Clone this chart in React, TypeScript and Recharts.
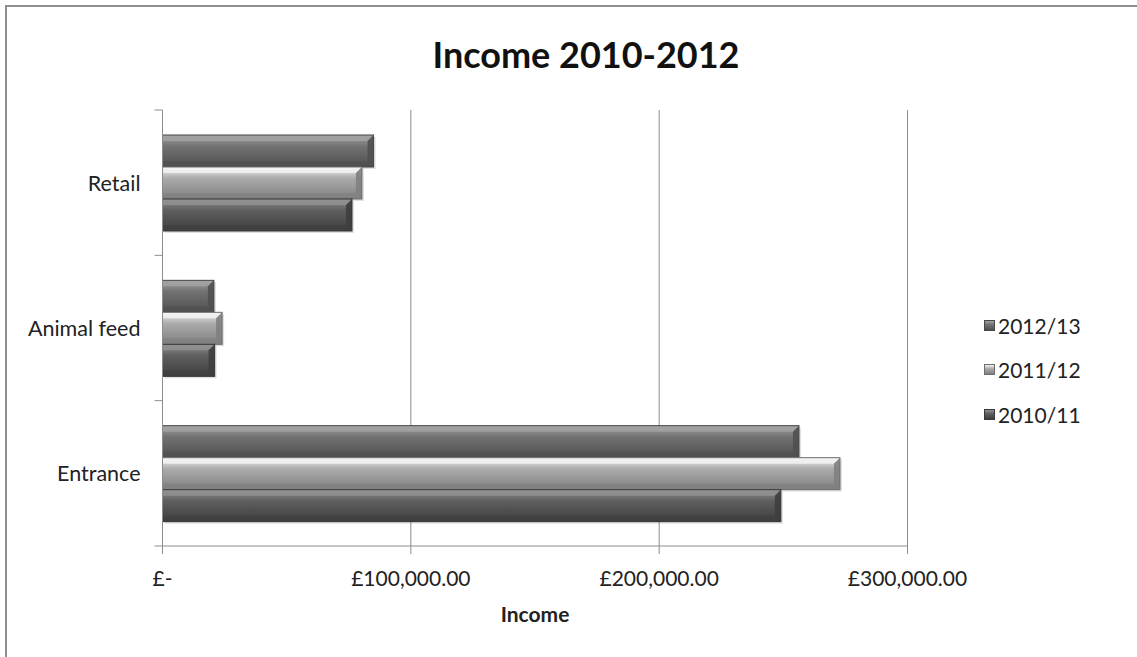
import React from "react";
import { BarChart, Bar, XAxis, YAxis, CartesianGrid } from "recharts";

const categories = ["Retail", "Animal feed", "Entrance"];
const seriesNames = ["2012/13", "2011/12", "2010/11"];
const values2012 = [85000, 20700, 256300];
const values2011 = [80300, 24000, 272800];
const values2010 = [76300, 21000, 249000];
const xTicks = [0, 100000, 200000, 300000];

const seriesValues = [values2012, values2011, values2010];
const seriesKeys = ["s2012", "s2011", "s2010"];
const palettes = [
  { top: "#a2a2a2", mid: "#727272", bot: "#505050", edge: "#474747" },
  { top: "#f2f2f2", mid: "#ababab", bot: "#808080", edge: "#6e6e6e" },
  { top: "#909090", mid: "#5f5f5f", bot: "#3e3e3e", edge: "#383838" },
];

const data = categories.map((c, i) => {
  const row: any = { name: c };
  seriesKeys.forEach((k, s) => (row[k] = seriesValues[s][i]));
  return row;
});

const W = 1137;
const H = 657;
const PLOT_LEFT = 162.5;
const PLOT_RIGHT = 907.5;
const PLOT_TOP = 110;
const PLOT_BOTTOM = 546;
const BAND = (PLOT_BOTTOM - PLOT_TOP) / categories.length;
const FONT = "Lato, 'Open Sans', sans-serif";

const fmt = (v: number) =>
  v === 0
    ? "£-"
    : "£" + v.toLocaleString("en-GB", { minimumFractionDigits: 2, maximumFractionDigits: 2 });

const makeShape = (s: number) => (props: any) => {
  const { x, y, width, height } = props;
  if (!width || width <= 0) return null;
  const p = palettes[s];
  const b = 6;
  return (
    <g>
      <rect x={x + 2} y={y + 2} width={width} height={height} fill="#000" opacity={0.12} />
      <rect x={x} y={y} width={width} height={height} fill={`url(#grad${s})`} />
      <polygon
        points={`${x},${y} ${x + width},${y} ${x + width - b},${y + b} ${x},${y + b}`}
        fill={p.top}
        opacity={0.85}
      />
      <polygon
        points={`${x + width},${y} ${x + width},${y + height} ${x + width - b},${y + height - b} ${x + width - b},${y + b}`}
        fill={p.bot}
        opacity={0.9}
      />
      <polygon
        points={`${x},${y + height} ${x + width},${y + height} ${x + width - b},${y + height - b} ${x},${y + height - b}`}
        fill={p.bot}
        opacity={0.7}
      />
      <rect x={x} y={y} width={width} height={height} fill="none" stroke={p.edge} strokeWidth={1} />
    </g>
  );
};

const CategoryTick = (props: any) => {
  const { y, payload, index } = props;
  const axisX = PLOT_LEFT;
  return (
    <g>
      <line x1={axisX - 8} x2={axisX} y1={y - BAND / 2} y2={y - BAND / 2} stroke="#8c8c8c" />
      {index === categories.length - 1 && (
        <line x1={axisX - 8} x2={axisX} y1={y + BAND / 2} y2={y + BAND / 2} stroke="#8c8c8c" />
      )}
      <text
        x={axisX - 22}
        y={y}
        textAnchor="end"
        dominantBaseline="central"
        fontFamily={FONT}
        fontSize={21.5}
        fill="#222"
      >
        {payload.value}
      </text>
    </g>
  );
};

export default function App() {
  return (
    <div
      style={{
        position: "absolute",
        left: 0,
        top: 0,
        width: W,
        height: H,
        overflow: "hidden",
        background: "#fff",
      }}
    >
      <div
        style={{
          position: "absolute",
          left: 5,
          top: 5,
          width: W + 50,
          height: H + 50,
          borderTop: "2px solid #8f8f8f",
          borderLeft: "2px solid #8f8f8f",
          boxSizing: "border-box",
        }}
      />
      <div
        style={{
          position: "absolute",
          left: 0,
          width: 1172,
          top: 32,
          textAlign: "center",
          fontFamily: FONT,
          fontWeight: 700,
          fontSize: 36,
          color: "#111",
        }}
      >
        Income 2010-2012
      </div>
      <div style={{ position: "absolute", left: 0, top: 0 }}>
        <BarChart
          width={W}
          height={H}
          data={data}
          layout="vertical"
          margin={{ top: PLOT_TOP, right: W - PLOT_RIGHT, left: 0, bottom: 71 }}
          barGap={0}
        >
          <defs>
            {palettes.map((p, i) => (
              <linearGradient key={i} id={`grad${i}`} x1="0" y1="0" x2="0" y2="1">
                <stop offset="0%" stopColor={p.top} />
                <stop offset="35%" stopColor={p.mid} />
                <stop offset="100%" stopColor={p.bot} />
              </linearGradient>
            ))}
          </defs>
          <CartesianGrid horizontal={false} vertical={true} stroke="#8c8c8c" strokeWidth={1} />
          <XAxis
            type="number"
            domain={[0, 300000]}
            ticks={xTicks}
            tickFormatter={fmt}
            height={40}
            axisLine={{ stroke: "#8c8c8c" }}
            tickLine={{ stroke: "#8c8c8c" }}
            tickSize={8}
            tickMargin={17}
            tick={{ fontFamily: FONT, fontSize: 21, fill: "#222" }}
            interval={0}
          />
          <YAxis
            type="category"
            dataKey="name"
            width={PLOT_LEFT}
            axisLine={{ stroke: "#8c8c8c" }}
            tickLine={false}
            tick={<CategoryTick />}
            interval={0}
          />
          {seriesKeys.map((k, s) => (
            <Bar
              key={k}
              dataKey={k}
              name={seriesNames[s]}
              barSize={32}
              isAnimationActive={false}
              shape={makeShape(s)}
            />
          ))}
        </BarChart>
      </div>
      <div
        style={{
          position: "absolute",
          left: 0,
          width: PLOT_LEFT + PLOT_RIGHT,
          top: 601,
          textAlign: "center",
          fontFamily: FONT,
          fontWeight: 700,
          fontSize: 21,
          color: "#222",
        }}
      >
        Income
      </div>
      <div style={{ position: "absolute", left: 984, top: 303 }}>
        {seriesNames.map((n, s) => (
          <div
            key={n}
            style={{
              display: "flex",
              alignItems: "center",
              height: 44.5,
              fontFamily: FONT,
              fontSize: 21,
              color: "#222",
            }}
          >
            <span
              style={{
                display: "inline-block",
                width: 11,
                height: 11,
                marginRight: 3,
                background: `linear-gradient(${palettes[s].top}, ${palettes[s].mid} 40%, ${palettes[s].bot})`,
                border: `1px solid ${palettes[s].edge}`,
                boxSizing: "border-box",
              }}
            />
            {n}
          </div>
        ))}
      </div>
    </div>
  );
}
